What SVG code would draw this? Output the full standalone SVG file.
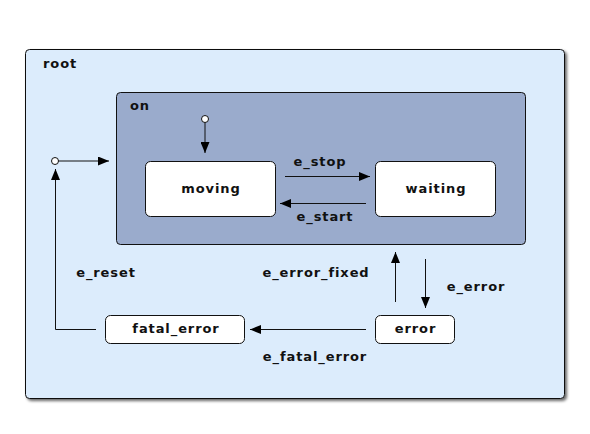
<svg xmlns="http://www.w3.org/2000/svg" width="590" height="434" viewBox="0 0 590 434">
<defs>
<style>
text{font-family:"DejaVu Sans","Liberation Sans",sans-serif;font-size:13px;font-weight:bold;letter-spacing:0.9px;fill:#111}
.c{text-anchor:middle}
.st{fill:#fff;stroke:#111;stroke-width:1}
.ln{fill:none;stroke:#111;stroke-width:1}
.init{fill:#fff;stroke:#111;stroke-width:1}
</style>
<marker id="ah" viewBox="0 0 11 9" refX="11" refY="4.5" markerWidth="11" markerHeight="9" markerUnits="userSpaceOnUse" orient="auto">
<path d="M0,0 L11,4.5 L0,9 Z" fill="#000"/>
</marker>
<filter id="sh" x="-5%" y="-5%" width="110%" height="110%">
<feGaussianBlur in="SourceAlpha" stdDeviation="1.5"/>
<feOffset dx="2" dy="2" result="b"/>
<feComponentTransfer><feFuncA type="linear" slope="0.6"/></feComponentTransfer>
<feMerge><feMergeNode/><feMergeNode in="SourceGraphic"/></feMerge>
</filter>
</defs>
<rect width="590" height="434" fill="#fff"/>
<g id="root">
<rect x="25.5" y="49.5" width="539" height="349" rx="4" fill="#dcecfc" stroke="#111" filter="url(#sh)"/>
<text x="43" y="68">root</text>
</g>
<g id="on">
<rect x="116.5" y="92.5" width="409" height="152" rx="4" fill="#9aabcc" stroke="#111"/>
<text x="130" y="110">on</text>
</g>
<g id="moving">
<rect class="st" x="145.5" y="161.5" width="130" height="55" rx="5"/>
<text class="c" x="211" y="193">moving</text>
</g>
<g id="waiting">
<rect class="st" x="375.5" y="161.5" width="120" height="55" rx="5"/>
<text class="c" x="436" y="193">waiting</text>
</g>
<g id="error">
<rect class="st" x="375.5" y="315.5" width="79" height="28" rx="5"/>
<text class="c" x="415.5" y="333">error</text>
</g>
<g id="fatal_error">
<rect class="st" x="105.5" y="315.5" width="139" height="28" rx="5"/>
<text class="c" x="176" y="333">fatal_error</text>
</g>
<g id="initial_root">
<circle class="init" cx="55" cy="161" r="3.5"/>
</g>
<g id="initial_on">
<circle class="init" cx="205" cy="119" r="3.5"/>
</g>
<g id="connectors">
<path class="ln" d="M58.5,161 H109" marker-end="url(#ah)"/>
<path class="ln" d="M205,122.5 V153" marker-end="url(#ah)"/>
<path class="ln" d="M285,176.5 H370" marker-end="url(#ah)"/>
<path class="ln" d="M366,203.5 H280" marker-end="url(#ah)"/>
<path class="ln" d="M395.5,302 V252" marker-end="url(#ah)"/>
<path class="ln" d="M425.5,259 V308" marker-end="url(#ah)"/>
<path class="ln" d="M366,329.5 H250" marker-end="url(#ah)"/>
<path class="ln" d="M96,329.5 H55.5 V169" marker-end="url(#ah)"/>
<text class="c" x="320" y="166">e_stop</text>
<text class="c" x="325" y="221">e_start</text>
<text class="c" x="316" y="277">e_error_fixed</text>
<text class="c" x="476" y="291">e_error</text>
<text class="c" x="315" y="361">e_fatal_error</text>
<text class="c" x="106" y="277">e_reset</text>
</g>
</svg>
